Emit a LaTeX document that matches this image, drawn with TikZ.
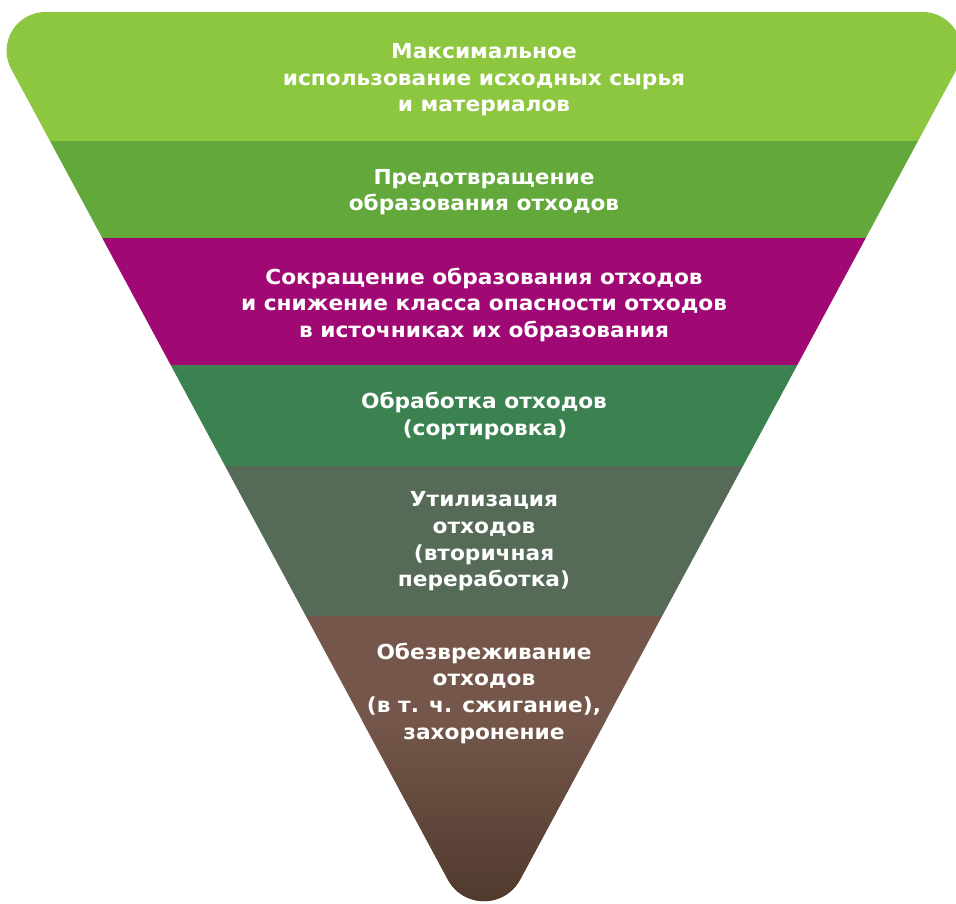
\documentclass[tikz,border=0pt]{standalone}
\usepackage{fontspec}
\setmainfont{DejaVu Sans}
\newfontfamily\lblfont{DejaVu Sans Bold}[FakeStretch=1.05]
\definecolor{cA}{HTML}{8DC63F}
\definecolor{cB}{HTML}{63A83B}
\definecolor{cC}{HTML}{A00873}
\definecolor{cD}{HTML}{3B8250}
\definecolor{cE}{HTML}{556B58}
\definecolor{cF}{HTML}{74574A}
\definecolor{cG}{HTML}{51392D}
\tikzset{
  lbl/.style={text=white, font=\lblfont\fontsize{15.5pt}{20pt}\selectfont, anchor=base, inner sep=0pt}
}
\begin{document}
\begin{tikzpicture}[x=0.75pt, y=-0.75pt]
\useasboundingbox (0,0) rectangle (956,903);
% key points of the outline
\coordinate (tl) at (45.3,12);
\coordinate (tr) at (922.7,12);
\coordinate (re) at (520.12,879.59);
\coordinate (le) at (11.21,69.01);
\begin{scope}
\clip (tl) -- (tr) arc[start angle=-90, end angle=28.2, radius=38.7]
  -- (re) arc[start angle=28.2, end angle=151.8, radius=41]
  -- (le) arc[start angle=151.8, end angle=270, radius=38.7] -- cycle;
\fill[cA] (-30,0) rectangle (990,140.7);
\fill[cB] (-30,140.7) rectangle (990,237.7);
\fill[cC] (-30,237.7) rectangle (990,365);
\fill[cD] (-30,365) rectangle (990,466);
\fill[cE] (-30,466) rectangle (990,615.7);
\fill[cF] (-30,615.7) rectangle (990,910);
\shade[top color=cF, bottom color=cG] (-30,720) rectangle (990,903);
\end{scope}
% band 1
\node[lbl] (a1) at (484,58.3) {Максимальное};
\node[lbl] (a2) at (484,85) {использование исходных сырья};
\node[lbl] (a3) at (484,111.7) {и материалов};
% band 2
\node[lbl] (b1) at (484,184.3) {Предотвращение};
\node[lbl] (b2) at (484,210.7) {образования отходов};
% band 3
\node[lbl] (c1) at (484,284) {Сокращение образования отходов};
\node[lbl] (c2) at (484,310.5) {и снижение класса опасности отходов};
\node[lbl] (c3) at (484,337) {в источниках их образования};
% band 4
\node[lbl] (d1) at (484,408) {Обработка отходов};
\node[lbl] (d2) at (485,435) {(сортировка)};
% band 5
\node[lbl] (e1) at (484,506.7) {Утилизация};
\node[lbl] (e2) at (484,533.3) {отходов};
\node[lbl] (e3) at (484,560) {(вторичная};
\node[lbl] (e4) at (484,586.7) {переработка)};
% band 6
\node[lbl] (f1) at (484,659) {Обезвреживание};
\node[lbl] (f2) at (484,685.7) {отходов};
\node[lbl] (f3) at (484,712.4) {(в т. ч. сжигание),};
\node[lbl] (f4) at (484,739.1) {захоронение};
\end{tikzpicture}
\end{document}
